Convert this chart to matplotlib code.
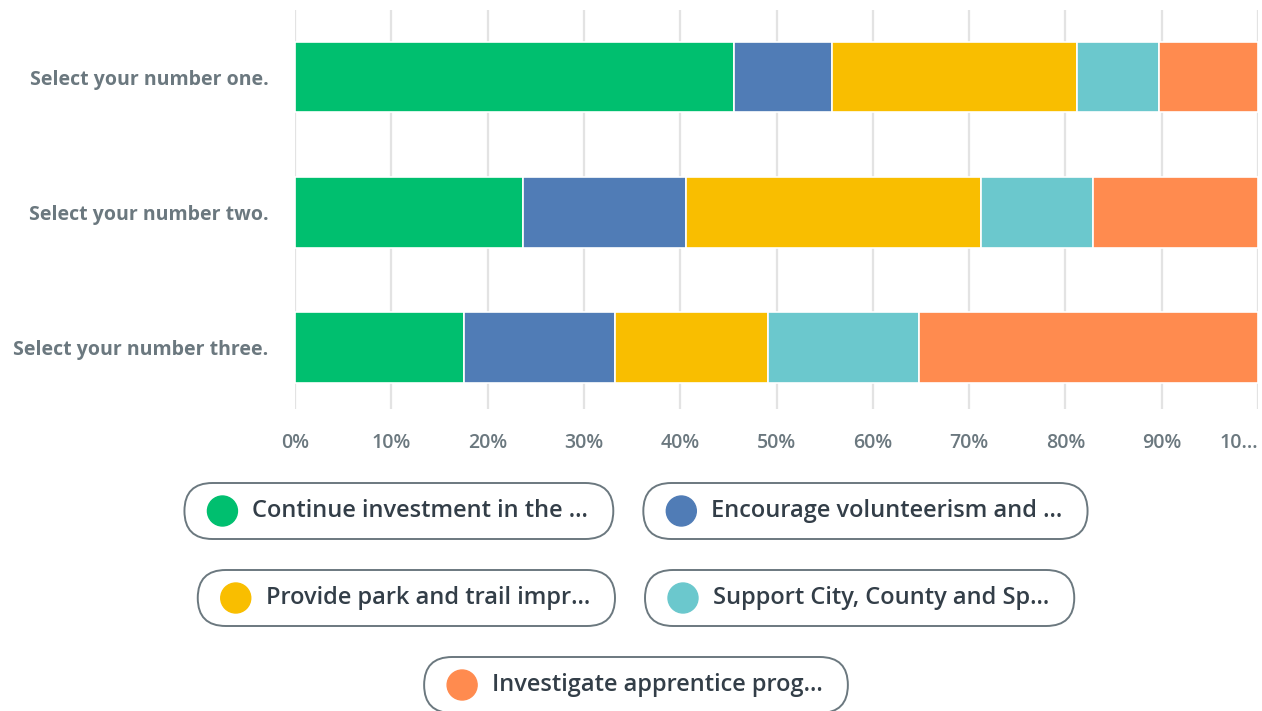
import matplotlib.pyplot as plt
from matplotlib.patches import FancyBboxPatch, Circle
import numpy as np

plt.rcParams['font.family'] = ['Open Sans', 'DejaVu Sans']

questions = ["Select your number one.", "Select your number two.", "Select your number three."]
answers = [
    "Continue investment in the ...",
    "Encourage volunteerism and ...",
    "Provide park and trail impr...",
    "Support City, County and Sp...",
    "Investigate apprentice prog...",
]
colors = ["#00bf6f", "#507cb6", "#f9be00", "#6bc8cd", "#ff8b4f"]

# percent share of each answer, per question (rows follow `questions`)
continue_inv = [45.6, 23.7, 17.5]
volunteer = [10.2, 16.9, 15.7]
park_trail = [25.4, 30.6, 15.9]
support_city = [8.5, 11.7, 15.7]
apprentice = [10.3, 17.1, 35.2]
series = [continue_inv, volunteer, park_trail, support_city, apprentice]

xticks = [0, 10, 20, 30, 40, 50, 60, 70, 80, 90, 100]
xticklabels = ["0%", "10%", "20%", "30%", "40%", "50%", "60%", "70%", "80%", "90%", "10..."]

W, H = 1262, 711
fig = plt.figure(figsize=(W / 100, H / 100), dpi=100)
ax = fig.add_axes([295 / W, 1 - 408.5 / H, (1258 - 295) / W, (408.5 - 9.5) / H])

ypos = np.arange(len(questions))[::-1]
left = np.zeros(len(questions))
for vals, col in zip(series, colors):
    ax.barh(ypos, vals, left=left, height=0.52, color=col,
            edgecolor="white", linewidth=1.2, zorder=3)
    left += np.array(vals)

ax.set_xlim(0, 100)
ax.set_ylim(-0.45, 2.5)
ax.set_xticks(xticks)
ax.set_xticklabels(xticklabels, color="#6b787f", fontsize=14, fontweight="semibold")
ax.get_xticklabels()[-1].set_horizontalalignment("right")
ax.set_yticks(ypos)
ax.set_yticklabels(questions, color="#6b787f", fontsize=14, fontweight="bold")
ax.tick_params(axis="x", length=0, pad=18)
ax.tick_params(axis="y", length=0, pad=19)
ax.grid(axis="x", color="#e3e3e3", linewidth=1.6, zorder=0)
for s in ax.spines.values():
    s.set_visible(False)

# legend pills, laid out in rows and centred under the chart
rows = [[0, 1], [2, 3], [4]]
row_y = [511, 598, 685]
cx = 636
gap = 30
pill_h = 56
fig.canvas.draw()
r = fig.canvas.get_renderer()
for idxs, yc in zip(rows, row_y):
    items = []
    for i in idxs:
        t = fig.text(0, 1 - yc / H, answers[i], fontsize=17, fontweight="semibold",
                     color="#333e48", va="center", ha="left")
        tw = t.get_window_extent(r).width
        items.append((i, t, tw, 68 + tw + 25))
    total = sum(it[3] for it in items) + gap * (len(items) - 1)
    x0 = cx - total / 2
    for i, t, tw, pw in items:
        pill = FancyBboxPatch((x0 + 28, H - yc), pw - 56, 0,
                              boxstyle="round,pad=28,rounding_size=28",
                              transform=None, facecolor="white", edgecolor="#6b787f",
                              linewidth=1.4)
        fig.patches.append(pill)
        dot = Circle((x0 + 38, H - yc), 15, transform=None, color=colors[i])
        fig.patches.append(dot)
        t.set_x((x0 + 68) / W)
        x0 += pw + gap

fig.savefig("out.png", dpi=100)
